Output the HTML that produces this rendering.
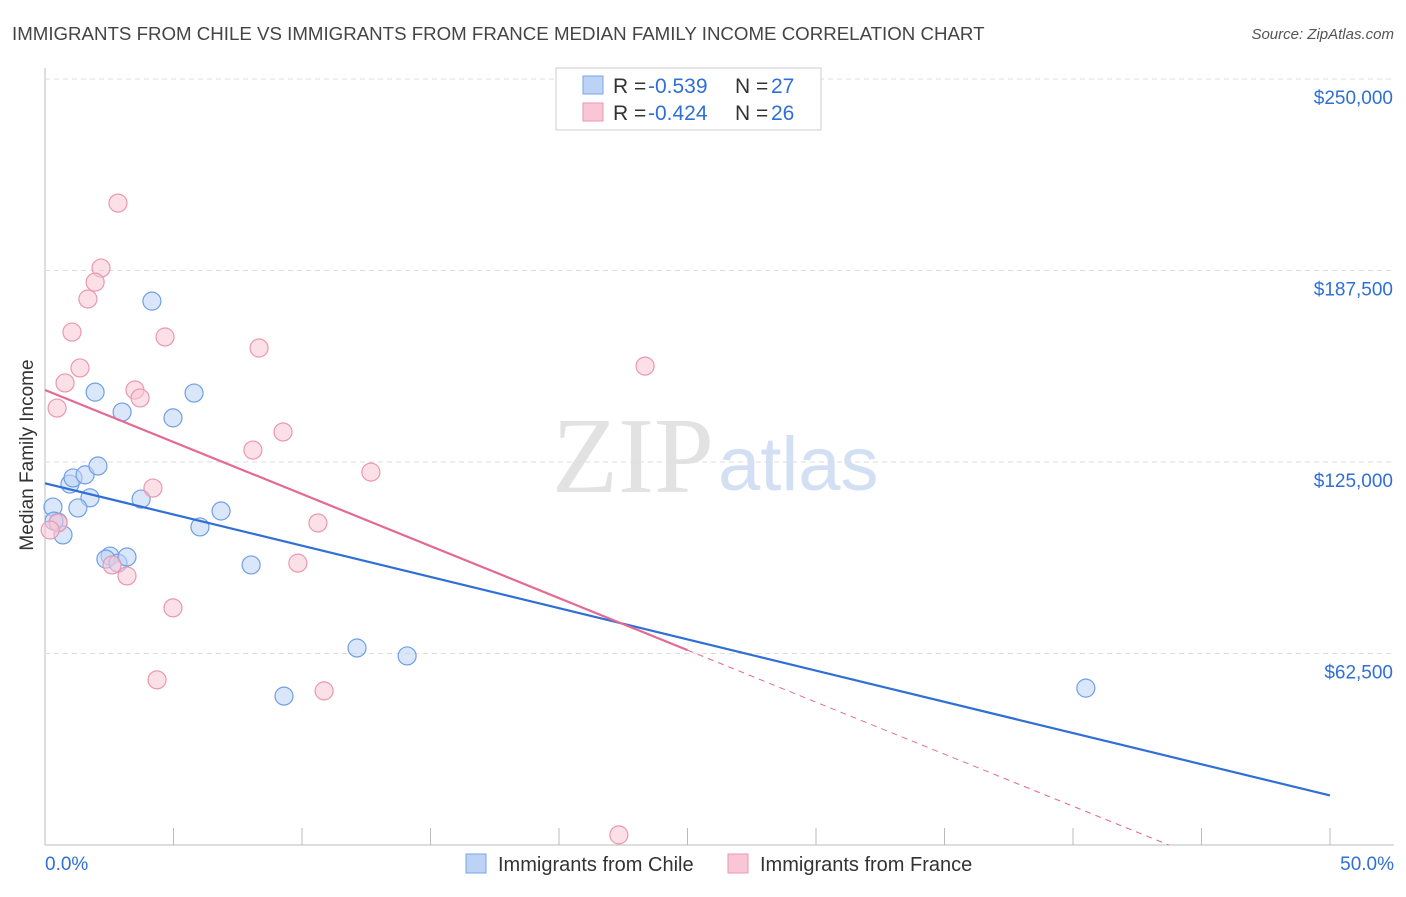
<!DOCTYPE html>
<html><head><meta charset="utf-8"><style>
body{margin:0;background:#fff;font-family:"Liberation Sans",sans-serif;}
</style></head><body>
<svg id="c" width="1406" height="892" xmlns="http://www.w3.org/2000/svg">
<text x="12" y="40" font-size="18.7" fill="#444">IMMIGRANTS FROM CHILE VS IMMIGRANTS FROM FRANCE MEDIAN FAMILY INCOME CORRELATION CHART</text>
<text x="1394" y="39" font-size="15" fill="#555" font-style="italic" text-anchor="end">Source: ZipAtlas.com</text>
<text x="33" y="455" font-size="19" fill="#333" text-anchor="middle" transform="rotate(-90 33 455)">Median Family Income</text>
<text x="714" y="492" font-size="108" fill="#e2e2e2" text-anchor="end" font-family="Liberation Serif,serif">ZIP</text>
<text x="718" y="490" font-size="76" fill="#d3e0f3">atlas</text>
<g id="grid"></g><g id="marks"></g>
<g font-size="21">
<rect x="556" y="68" width="265" height="62" fill="#fff" stroke="#ccc"/>
<rect x="583" y="76" width="20" height="18" fill="#bcd3f5" stroke="#7aa5e8"/>
<rect x="583" y="103" width="20" height="18" fill="#f9c6d5" stroke="#eb97b0"/>
<text x="613" y="93" fill="#333">R =</text><text x="648" y="93" fill="#2f6fd6">-0.539</text>
<text x="735" y="93" fill="#333">N =</text><text x="771" y="93" fill="#2f6fd6">27</text>
<text x="613" y="120" fill="#333">R =</text><text x="648" y="120" fill="#2f6fd6">-0.424</text>
<text x="735" y="120" fill="#333">N =</text><text x="771" y="120" fill="#2f6fd6">26</text>
</g>
<g>
<rect x="466" y="854" width="20" height="19" fill="#bcd3f5" stroke="#7aa5e8"/>
<text x="498" y="871" font-size="20" fill="#333">Immigrants from Chile</text>
<rect x="728" y="854" width="20" height="19" fill="#f9c6d5" stroke="#eb97b0"/>
<text x="760" y="871" font-size="20" fill="#333">Immigrants from France</text>
</g>
</svg>
<script>
const yTicks=[62500,125000,187500,250000];
const yTickLabels=["$62,500","$125,000","$187,500","$250,000"];
const chileX=[0.31,0.51,0.70,0.35,0.97,1.09,1.56,1.75,1.28,2.06,1.95,3.00,4.16,4.98,5.80,3.74,2.53,2.37,2.84,3.19,6.03,6.85,8.02,9.30,12.14,14.09,40.50];
const chileY=[110300,105400,101200,105700,117800,119800,120800,113300,110000,123700,147800,141300,177500,139400,147500,112900,94300,93300,92000,94000,103800,109000,91400,48600,64300,61700,51200];
const franceX=[2.84,2.18,1.95,1.67,1.05,1.36,0.78,0.47,0.51,0.2,3.50,3.70,4.67,4.20,2.61,3.19,4.98,4.36,8.33,9.26,8.09,10.62,9.84,12.68,10.86,23.35,22.33];
const franceY=[209500,188300,183700,178200,167400,155700,150800,142600,105100,102800,148500,145900,165800,116500,91400,87800,77400,53900,162200,134800,128900,105100,92000,121700,50300,156300,3300];
const franceTrend=[148500,-3396];
const NS="http://www.w3.org/2000/svg";
const X=p=>45+p/50*1285, Y=v=>845-v/250000*766;
function mk(t,a,p){const e=document.createElementNS(NS,t);for(const k in a)e.setAttribute(k,a[k]);p.appendChild(e);return e;}
const g=document.getElementById('grid'), m=document.getElementById('marks');
mk('line',{x1:45,y1:68,x2:45,y2:845,stroke:'#bbb'},g);
mk('line',{x1:45,y1:845,x2:1394,y2:845,stroke:'#bbb'},g);
for(let i=0;i<=10;i++){const t=mk('line',{x1:X(i*5),y1:828,x2:X(i*5),y2:845,stroke:'#bbb'},g);

}
yTicks.forEach((v,i)=>{const l=mk('line',{x1:45,y1:Y(v),x2:1394,y2:Y(v),stroke:'#ddd','stroke-dasharray':'5,4'},g);


const t=mk('text',{x:1393,y:Y(v)+25,'font-size':19,fill:'#2f6fd6','text-anchor':'end'},g);t.textContent=yTickLabels[i];

});
let t0=mk('text',{x:45,y:870,'font-size':19,fill:'#2f6fd6'},g);t0.textContent='0.0%';


let t1=mk('text',{x:1394,y:870,'font-size':19,fill:'#2f6fd6','text-anchor':'end'},g);t1.textContent='50.0%';


function pts(xs,ys,fill,stroke,name){xs.forEach((x,i)=>{const c=mk('circle',{cx:X(x),cy:Y(ys[i]),r:9,fill:fill,'fill-opacity':0.55,stroke:stroke,'stroke-width':1.2},m);

});}
pts(chileX,chileY,'#bcd3f5','#6f9fe6','chile-point');
pts(franceX,franceY,'#f9c6d5','#eb97b0','france-point');
function reg(xs,ys){const n=xs.length;let sx=0,sy=0,sxx=0,sxy=0;for(let i=0;i<n;i++){sx+=xs[i];sy+=ys[i];sxx+=xs[i]*xs[i];sxy+=xs[i]*ys[i];}const b=(n*sxy-sx*sy)/(n*sxx-sx*sx);return [(sy-b*sx)/n,b];}
const [ca,cb]=reg(chileX,chileY);
let l=mk('line',{x1:X(0),y1:Y(ca),x2:X(50),y2:Y(ca+cb*50),stroke:'#2f6fd6','stroke-width':2.2},m);


const [fa,fb]=franceTrend;
const xmax=Math.max(...franceX)+1.65;
l=mk('line',{x1:X(0),y1:Y(fa),x2:X(xmax),y2:Y(fa+fb*xmax),stroke:'#e46a93','stroke-width':2.2},m);


const xz=Math.min(50,-fa/fb);
l=mk('line',{x1:X(xmax),y1:Y(fa+fb*xmax),x2:X(xz),y2:Y(fa+fb*xz),stroke:'#e46a93','stroke-width':1,'stroke-dasharray':'6,5'},m);


</script>
</body></html>
